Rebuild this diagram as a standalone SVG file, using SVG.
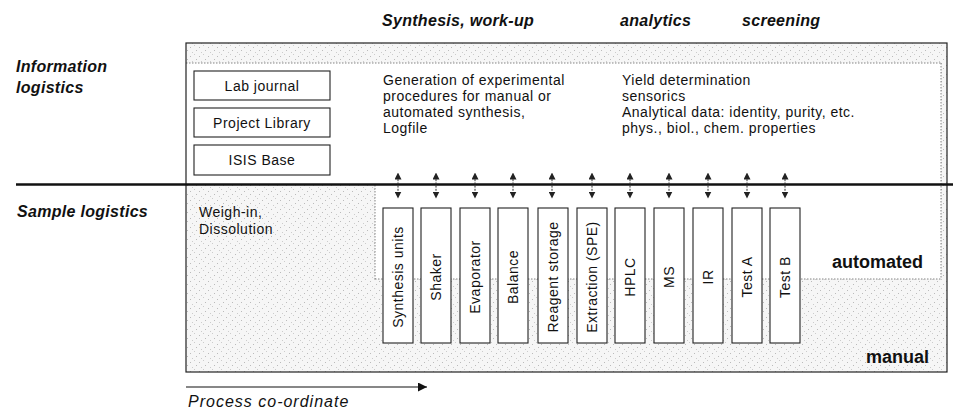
<svg xmlns="http://www.w3.org/2000/svg" width="953" height="410" viewBox="0 0 953 410">
<style>
text{font-family:"Liberation Sans",Arial,sans-serif;fill:#111}
.hd{font-size:16px;font-weight:bold;font-style:italic;letter-spacing:0.3px}
.tx{font-size:14px;letter-spacing:0.5px}
.bx{fill:#fff;stroke:#222;stroke-width:1.1}
.vt{font-size:14px;letter-spacing:0.5px;text-anchor:middle}
.dot{fill:none;stroke:#666;stroke-width:0.8;stroke-dasharray:1.5 1.5}
.ar{stroke:#333;stroke-width:1;stroke-dasharray:2 1.2;marker-start:url(#ah);marker-end:url(#ah)}
</style>
<defs>
<pattern id="st" width="9" height="9" patternUnits="userSpaceOnUse">
<rect width="9" height="9" fill="#f6f6f6"/>
<rect x="1" y="2" width="1" height="1" fill="#bbb"/>
<rect x="5" y="0" width="1" height="1" fill="#ccc"/>
<rect x="7" y="5" width="1" height="1" fill="#bbb"/>
<rect x="3" y="7" width="1" height="1" fill="#ccc"/>
</pattern>
<marker id="ah" viewBox="0 0 10 10" refX="5" refY="5" markerWidth="7" markerHeight="7" orient="auto-start-reverse" markerUnits="userSpaceOnUse">
<path d="M0,0 L10,5 L0,10 z" fill="#222"/>
</marker>
<marker id="pa" viewBox="0 0 10 10" refX="10" refY="5" markerWidth="10" markerHeight="9" orient="auto" markerUnits="userSpaceOnUse">
<path d="M0,0 L10,5 L0,10 z" fill="#111"/>
</marker>
</defs>

<!-- background regions -->
<rect x="186" y="43" width="761" height="329" fill="url(#st)"/>
<rect x="186" y="63" width="755" height="121" fill="#fff"/>
<rect x="375" y="185" width="566" height="94" fill="#fff"/>
<line x1="186" y1="63" x2="941" y2="63" class="dot"/>
<line x1="941" y1="63" x2="941" y2="279" class="dot"/>
<line x1="375" y1="185" x2="375" y2="279" class="dot"/>
<line x1="375" y1="279" x2="941" y2="279" class="dot"/>
<rect x="186" y="43" width="761" height="329" fill="none" stroke="#222" stroke-width="1.2"/>
<line x1="16" y1="184.5" x2="953" y2="184.5" stroke="#111" stroke-width="2.6"/>

<!-- headings -->
<text class="hd" x="382" y="26">Synthesis, work-up</text>
<text class="hd" x="620" y="26">analytics</text>
<text class="hd" x="742" y="26">screening</text>
<text class="hd" x="16" y="72">Information</text>
<text class="hd" x="16" y="93">logistics</text>
<text class="hd" x="17" y="217">Sample logistics</text>

<text class="tx" x="383" y="85">Generation of experimental</text>
<text class="tx" x="383" y="101">procedures for manual or</text>
<text class="tx" x="383" y="117">automated synthesis,</text>
<text class="tx" x="383" y="133">Logfile</text>
<text class="tx" x="622" y="85">Yield determination</text>
<text class="tx" x="622" y="101">sensorics</text>
<text class="tx" x="622" y="117">Analytical data: identity, purity, etc.</text>
<text class="tx" x="622" y="133">phys., biol., chem. properties</text>
<text class="tx" x="199" y="217">Weigh-in,</text>
<text class="tx" x="199" y="234">Dissolution</text>

<text x="832" y="268" style="font-size:18px;font-weight:bold">automated</text>
<text x="866" y="363" style="font-size:18px;font-weight:bold">manual</text>

<!-- info nodes -->
<g id="lab-journal"><rect class="bx" x="194" y="71" width="136" height="29"/><text class="tx" x="262" y="90.5" text-anchor="middle">Lab journal</text></g>
<g id="project-library"><rect class="bx" x="194" y="108" width="136" height="29"/><text class="tx" x="262" y="127.5" text-anchor="middle">Project Library</text></g>
<g id="isis-base"><rect class="bx" x="194" y="145" width="136" height="30"/><text class="tx" x="262" y="165" text-anchor="middle">ISIS Base</text></g>

<!-- device nodes -->
<g id="synthesis-units"><rect class="bx" x="383" y="208" width="30" height="135"/><text class="vt" transform="translate(403,277) rotate(-90)">Synthesis units</text></g>
<g id="shaker"><rect class="bx" x="421" y="208" width="30" height="135"/><text class="vt" transform="translate(441,277) rotate(-90)">Shaker</text></g>
<g id="evaporator"><rect class="bx" x="460" y="208" width="30" height="135"/><text class="vt" transform="translate(480,277) rotate(-90)">Evaporator</text></g>
<g id="balance"><rect class="bx" x="498" y="208" width="30" height="135"/><text class="vt" transform="translate(518,277) rotate(-90)">Balance</text></g>
<g id="reagent-storage"><rect class="bx" x="538" y="208" width="30" height="135"/><text class="vt" transform="translate(558,277) rotate(-90)">Reagent storage</text></g>
<g id="extraction"><rect class="bx" x="577" y="208" width="30" height="135"/><text class="vt" transform="translate(597,277) rotate(-90)">Extraction (SPE)</text></g>
<g id="hplc"><rect class="bx" x="615" y="208" width="30" height="135"/><text class="vt" transform="translate(635,277) rotate(-90)">HPLC</text></g>
<g id="ms"><rect class="bx" x="654" y="208" width="30" height="135"/><text class="vt" transform="translate(674,277) rotate(-90)">MS</text></g>
<g id="ir"><rect class="bx" x="693" y="208" width="30" height="135"/><text class="vt" transform="translate(713,277) rotate(-90)">IR</text></g>
<g id="test-a"><rect class="bx" x="732" y="208" width="30" height="135"/><text class="vt" transform="translate(752,277) rotate(-90)">Test A</text></g>
<g id="test-b"><rect class="bx" x="770" y="208" width="30" height="135"/><text class="vt" transform="translate(790,277) rotate(-90)">Test B</text></g>

<!-- connectors -->
<g id="connectors">
<line class="ar" x1="398" y1="176" x2="398" y2="195"/>
<line class="ar" x1="436" y1="176" x2="436" y2="195"/>
<line class="ar" x1="475" y1="176" x2="475" y2="195"/>
<line class="ar" x1="513" y1="176" x2="513" y2="195"/>
<line class="ar" x1="552" y1="176" x2="552" y2="195"/>
<line class="ar" x1="592" y1="176" x2="592" y2="195"/>
<line class="ar" x1="630" y1="176" x2="630" y2="195"/>
<line class="ar" x1="669" y1="176" x2="669" y2="195"/>
<line class="ar" x1="708" y1="176" x2="708" y2="195"/>
<line class="ar" x1="747" y1="176" x2="747" y2="195"/>
<line class="ar" x1="785" y1="176" x2="785" y2="195"/>
<line x1="186" y1="387" x2="427" y2="387" stroke="#111" stroke-width="1.2" marker-end="url(#pa)"/>
</g>
<text x="188" y="407" style="font-size:16px;font-style:italic;letter-spacing:1px">Process co-ordinate</text>
</svg>
